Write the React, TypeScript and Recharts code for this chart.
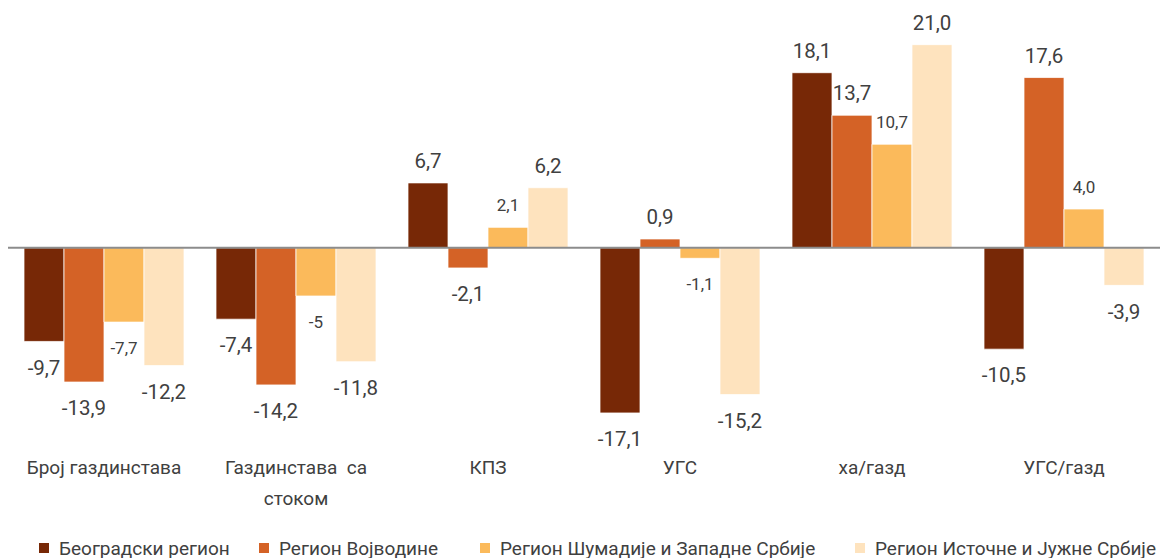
import { BarChart, Bar, XAxis, YAxis, ReferenceLine, LabelList } from "recharts";

const categories = [
  "Број газдинстава",
  "Газдинстава  са\nстоком",
  "КПЗ",
  "УГС",
  "ха/газд",
  "УГС/газд"
];

const beograd = [-9.7, -7.4, 6.7, -17.1, 18.1, -10.5];
const vojvodina = [-13.9, -14.2, -2.1, 0.9, 13.7, 17.6];
const sumadija = [-7.7, -5, 2.1, -1.1, 10.7, 4.0];
const istok = [-12.2, -11.8, 6.2, -15.2, 21.0, -3.9];

// the source prints this one value without a decimal
const plainLabels: Record<string, string> = { "sumadija:1": "-5" };

const SERIES = [
  { key: "beograd", name: "Београдски регион", color: "#772806", values: beograd, labelSize: 20.5 },
  { key: "vojvodina", name: "Регион Војводине", color: "#D46226", values: vojvodina, labelSize: 20.5 },
  { key: "sumadija", name: "Регион Шумадије и Западне Србије", color: "#FBBA5B", values: sumadija, labelSize: 17 },
  { key: "istok", name: "Регион Источне и Јужне Србије", color: "#FEE3BE", values: istok, labelSize: 20.5 }
];

const data = categories.map((name, i) => {
  const row: Record<string, string | number> = { name };
  SERIES.forEach((s) => (row[s.key] = s.values[i]));
  return row;
});

const FONT = "Roboto, 'Noto Sans', sans-serif";
const TEXT = "#404040";
const LEGEND_LEFT = [39, 259, 480, 855];

const fmt = (key: string, index: number, v: number) =>
  plainLabels[`${key}:${index}`] ?? v.toFixed(1).replace(".", ",");

const makeLabel = (key: string, size: number) => (props: any) => {
  const { x, y, width, height, value, index } = props;
  const v = Number(value);
  const top = Math.min(y, y + height);
  const bottom = Math.max(y, y + height);
  const cy = v >= 0 ? top - 22 : bottom + 26;
  return (
    <text
      x={x + width / 2}
      y={cy}
      dy="0.35em"
      textAnchor="middle"
      fill={TEXT}
      fontSize={size}
      fontFamily={FONT}
    >
      {fmt(key, index, v)}
    </text>
  );
};

const CategoryTick = ({ x, y, payload }: any) => {
  const lines = String(payload.value).split("\n");
  return (
    <text x={x} y={y} textAnchor="middle" fill={TEXT} fontSize={19} fontFamily={FONT}>
      {lines.map((l, i) => (
        <tspan key={i} x={x} dy={i === 0 ? 33 : 31} style={{ whiteSpace: "pre" }}>
          {l}
        </tspan>
      ))}
    </text>
  );
};

export default function App() {
  return (
    <div style={{ position: "absolute", left: 0, top: 0, width: 1162, height: 558, background: "#fff" }}>
      <BarChart
        width={1162}
        height={558}
        data={data}
        margin={{ top: 6, right: 2, bottom: 0, left: 8 }}
        barCategoryGap={16}
        barGap={0}
      >
        <XAxis
          dataKey="name"
          height={117}
          axisLine={false}
          tickLine={false}
          tickSize={0}
          tickMargin={0}
          interval={0}
          tick={<CategoryTick />}
        />
        <YAxis hide domain={[-20, 25]} />
        {SERIES.map((s) => (
          <Bar
            key={s.key}
            dataKey={s.key}
            name={s.name}
            fill={s.color}
            stroke="#ffffff"
            strokeWidth={0.75}
            isAnimationActive={false}
          >
            <LabelList dataKey={s.key} content={makeLabel(s.key, s.labelSize)} />
          </Bar>
        ))}
        <ReferenceLine y={0} stroke="#8c8c8c" strokeWidth={2} />
      </BarChart>
      <div style={{ position: "absolute", top: 537, left: 0, width: 1162, height: 22 }}>
        {SERIES.map((s, i) => (
          <div
            key={s.key}
            style={{
              position: "absolute",
              left: LEGEND_LEFT[i],
              top: 0,
              height: 22,
              display: "flex",
              alignItems: "center",
              whiteSpace: "nowrap",
              fontFamily: FONT,
              fontSize: 19,
              color: TEXT
            }}
          >
            <span style={{ width: 10, height: 10, background: s.color, marginRight: 10, display: "inline-block" }} />
            {s.name}
          </div>
        ))}
      </div>
    </div>
  );
}
